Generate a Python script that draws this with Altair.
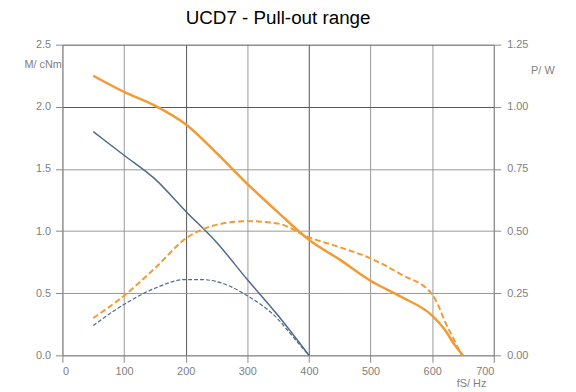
import altair as alt
import pandas as pd

# Data
f_m_orange = [50, 100, 150, 200, 250, 300, 350, 400, 450, 500, 550, 600, 620, 637, 650]
m_orange = [2.25, 2.12, 2.01, 1.86, 1.63, 1.38, 1.15, 0.93, 0.77, 0.60, 0.47, 0.32, 0.21, 0.08, 0.0]

f_p_orange = [50, 100, 150, 200, 250, 300, 350, 400, 450, 500, 550, 600, 610, 621, 632, 648]
p_orange = [0.15, 0.24, 0.35, 0.47, 0.525, 0.54, 0.53, 0.475, 0.435, 0.39, 0.325, 0.245, 0.20, 0.135, 0.08, 0.0]

f_m_blue = [50, 100, 150, 200, 250, 300, 350, 400]
m_blue = [1.80, 1.61, 1.42, 1.16, 0.91, 0.61, 0.32, 0.0]

f_p_blue = [50, 100, 150, 200, 225, 250, 300, 350, 375, 400]
p_blue = [0.12, 0.205, 0.27, 0.305, 0.305, 0.297, 0.24, 0.145, 0.072, 0.0]

ORANGE = "#f39a33"
BLUE = "#4e6a8c"

df_m = pd.concat([
    pd.DataFrame({"f": f_m_orange, "v": m_orange, "s": "M orange"}),
    pd.DataFrame({"f": f_m_blue, "v": m_blue, "s": "M blue"}),
])
df_p = pd.concat([
    pd.DataFrame({"f": f_p_orange, "v": p_orange, "s": "P orange"}),
    pd.DataFrame({"f": f_p_blue, "v": p_blue, "s": "P blue"}),
])

lab = dict(labelColor="#808080", labelFontSize=11, labelFont="Liberation Sans",
           tickColor="#888", domainColor="#888", tickSize=7,
           titleColor="#808080", titleFontSize=11, titleFont="Liberation Sans",
           titleFontWeight="normal")

x_enc = alt.X("f:Q", scale=alt.Scale(domain=[0, 700], nice=False),
              axis=alt.Axis(values=[0, 100, 200, 300, 400, 500, 600, 700], labelPadding=3,
                            title="fS/ Hz", titleX=413, titleY=31, titleAlign="center",
                            titleBaseline="alphabetic",
                            gridColor={"condition": {"test": "datum.value == 200 || datum.value == 400", "value": "#555"}, "value": "#999"},
                            **lab))

left = alt.Chart(df_m).mark_line(interpolate="monotone").encode(
    x=x_enc,
    y=alt.Y("v:Q", scale=alt.Scale(domain=[0, 2.5], nice=False),
            axis=alt.Axis(values=[0, 0.5, 1.0, 1.5, 2.0, 2.5], format=".1f", labelPadding=5,
                          title="M/ cNm", titleAngle=0, titleX=-1, titleY=23,
                          titleAlign="right", titleBaseline="alphabetic",
                          gridColor={"condition": {"test": "datum.value == 2 || datum.value == 2.5", "value": "#555"}, "value": "#999"},
                          **lab)),
    color=alt.Color("s:N", scale=alt.Scale(domain=["M orange", "M blue"], range=[ORANGE, BLUE]), legend=None),
    strokeWidth=alt.StrokeWidth("s:N", scale=alt.Scale(domain=["M orange", "M blue"], range=[2.5, 1.5]), legend=None),
)

right = alt.Chart(df_p).mark_line(interpolate="monotone").encode(
    x=alt.X("f:Q"),
    y=alt.Y("v:Q", scale=alt.Scale(domain=[0, 1.25], nice=False),
            axis=alt.Axis(orient="right", values=[0, 0.25, 0.5, 0.75, 1.0, 1.25], format=".2f",
                          labelPadding=6,
                          grid=False, title="P/ W", titleAngle=0, titleX=61, titleY=29,
                          titleAlign="right", titleBaseline="alphabetic", **lab)),
    color=alt.Color("s:N", scale=alt.Scale(domain=["P orange", "P blue"], range=[ORANGE, BLUE]), legend=None),
    strokeWidth=alt.StrokeWidth("s:N", scale=alt.Scale(domain=["P orange", "P blue"], range=[2.0, 1.2]), legend=None),
    strokeDash=alt.StrokeDash("s:N", scale=alt.Scale(domain=["P orange", "P blue"], range=[[6, 3], [4, 2]]), legend=None),
)

chart = alt.layer(left, right).resolve_scale(
    y="independent", color="independent", strokeWidth="independent", strokeDash="independent"
).properties(
    width=436, height=314,
    title=alt.TitleParams("UCD7 - Pull-out range", fontSize=19, fontWeight="normal",
                          font="Liberation Sans", color="#000", anchor="middle", offset=11),
    autosize=alt.AutoSizeParams(type="none"),
    padding={"left": 55, "top": 35, "right": 75, "bottom": 35},
).configure_view(stroke=None)

chart.save("out.html", embed_options={"renderer": "svg", "actions": False})
